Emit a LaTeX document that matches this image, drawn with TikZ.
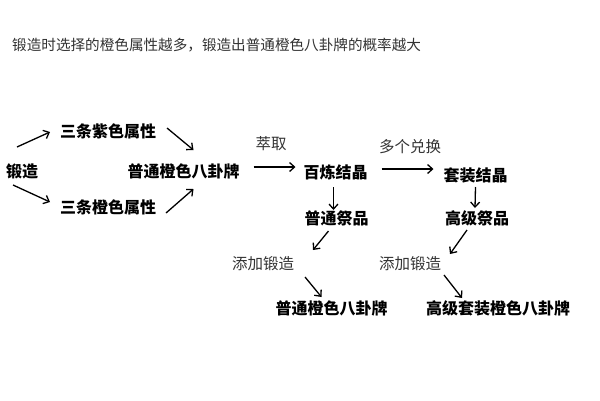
\documentclass[tikz,border=0pt]{standalone}
\usepackage{fontspec}
\usetikzlibrary{arrows.meta}
\setmainfont{Noto Sans CJK SC}
\definecolor{textgray}{HTML}{333333}
\tikzset{
    item/.style={inner sep=0pt,font=\fontsize{16}{18}\selectfont\bfseries},
    note/.style={inner sep=0pt,text=textgray,font=\fontsize{15.5}{18}\selectfont},
    flow/.style={-{Straight Barb[length=5pt,width=9pt]},line width=1.3pt}
}
\begin{document}
\begin{tikzpicture}[x=1pt,y=-1pt]
    \useasboundingbox[fill=white] (0,0) rectangle (600,400);
    \node[note,anchor=west,font=\fontsize{14.6}{17}\selectfont] (title) at (12,45) {锻造时选择的橙色属性越多，锻造出普通橙色八卦牌的概率越大};

    % Forge %
    \node[item] (forge) at (22,171) {锻造};
    \node[item] (purple) at (108,131) {三条紫色属性};
    \node[item] (orange) at (108,207) {三条橙色属性};
    \node[item] (plain) at (183.5,171) {普通橙色八卦牌};
    \draw[flow] ([shift={(-5,-24)}]forge.center) -- ([shift={(-58,1)}]purple.center);
    \draw[flow] ([shift={(-9,14)}]forge.center) -- ([shift={(-58,-5)}]orange.center);
    \draw[flow] ([shift={(59,-3)}]purple.center) -- ([shift={(10,-21)}]plain.center);
    \draw[flow] ([shift={(58,6)}]orange.center) -- ([shift={(10,18)}]plain.center);

    % Crystals %
    \node[item] (crystal) at (335.5,172) {百炼结晶};
    \node[item] (setcry) at (475.5,175) {套装结晶};
    \node[note] (extract) at (271,144) {萃取};
    \node[note] (exchange) at (410,147) {多个兑换};
    \draw[flow] ([shift={(70,-4)}]plain.center) -- ([shift={(-40,-5)}]crystal.center);
    \draw[flow] ([shift={(46,-3)}]crystal.center) -- ([shift={(-42,-6)}]setcry.center);

    % Offerings %
    \node[item] (offer) at (336.5,218) {普通祭品};
    \node[item] (hioffer) at (477,218) {高级祭品};
    \draw[flow] ([shift={(-2,15)}]crystal.center) -- ([shift={(-3,-8)}]offer.center);
    \draw[flow] ([shift={(0,12)}]setcry.center) -- ([shift={(-2,-10)}]hioffer.center);

    % Results %
    \node[note] (addA) at (263,264) {添加锻造};
    \node[note] (addB) at (410,264) {添加锻造};
    \node[item] (plainout) at (331.5,308) {普通橙色八卦牌};
    \node[item] (setout) at (498,308) {高级套装橙色八卦牌};
    \draw[flow] ([shift={(-8,13)}]offer.center) -- ([shift={(50,-14)}]addA.center);
    \draw[flow] ([shift={(-10,12)}]hioffer.center) -- ([shift={(40,-10)}]addB.center);
    \draw[flow] ([shift={(42,13)}]addA.center) -- ([shift={(-10,-11)}]plainout.center);
    \draw[flow] ([shift={(34,11)}]addB.center) -- ([shift={(-36,-10)}]setout.center);
\end{tikzpicture}
\end{document}
